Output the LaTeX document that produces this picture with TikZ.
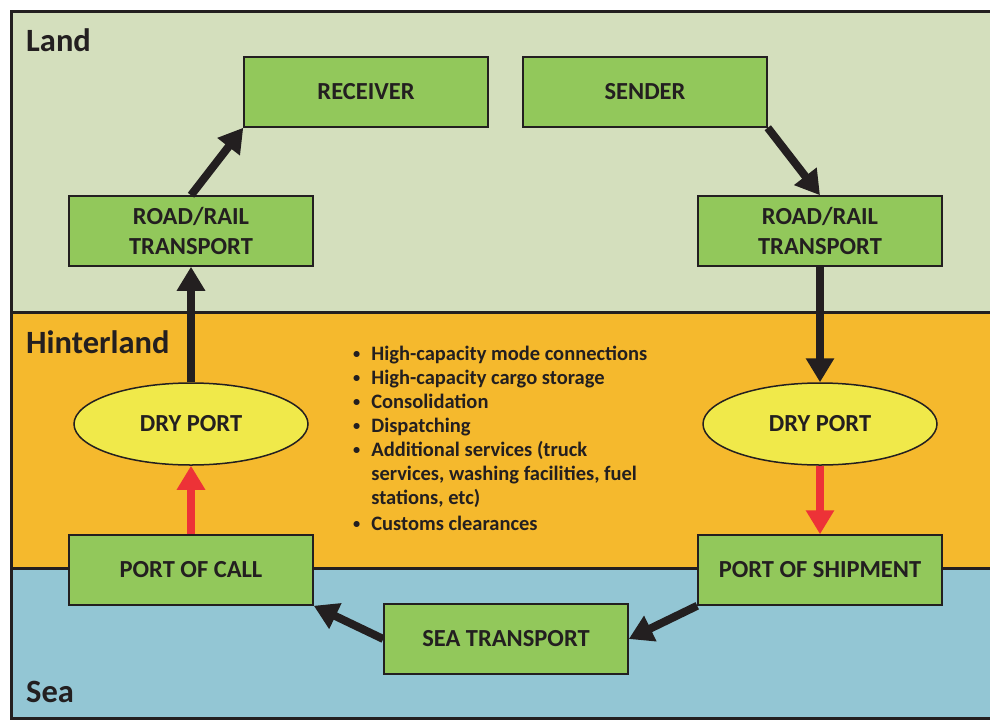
\documentclass[tikz,border=0pt]{standalone}
\usepackage{fontspec}
\usepackage{graphicx}
\setmainfont{Carlito}
\usetikzlibrary{arrows.meta}
\usetikzlibrary{shapes.geometric}

\definecolor{dark}{HTML}{231F20}
\definecolor{landbg}{HTML}{D4DFBD}
\definecolor{hinterbg}{HTML}{F5B92D}
\definecolor{seabg}{HTML}{93C6D4}
\definecolor{boxgreen}{HTML}{92C85B}
\definecolor{dryyellow}{HTML}{F0E94A}
\definecolor{arrowred}{HTML}{ED3237}

\newcommand{\dotmark}{\raisebox{1.5pt}{\scalebox{0.7}{\textbullet}}}

\begin{document}
\begin{tikzpicture}[x=1pt,y=-1pt,
  box/.style={draw=dark, line width=1.5pt, fill=boxgreen, minimum width=244pt, minimum height=70pt, align=center, text=dark, font=\fontsize{24.5}{30}\selectfont\bfseries},
  port/.style={ellipse, draw=dark, line width=1.5pt, fill=dryyellow, minimum width=234pt, minimum height=82pt, inner sep=0pt, text=dark, font=\fontsize{24.5}{30}\selectfont\bfseries},
  flow/.style={draw=dark, line width=8pt, -{Triangle[width=27pt,length=24pt]}},
  local/.style={draw=arrowred, line width=8pt, -{Triangle[width=27pt,length=24pt]}},
  zone/.style={anchor=west, inner sep=0pt, text=dark, font=\fontsize{32.5}{38}\selectfont\bfseries}]
\useasboundingbox (0,0) rectangle (990,720);
\clip (0,0) rectangle (990,720);
\fill[white] (0,0) rectangle (990,720);
% bands
\fill[landbg] (11,11) rectangle (995,312);
\fill[hinterbg] (11,312) rectangle (995,568);
\fill[seabg] (11,568) rectangle (995,718);
\draw[dark, line width=3pt] (11,312) -- (995,312);
\draw[dark, line width=3pt] (11,568) -- (995,568);
\draw[dark, line width=3pt] (995,718) -- (11.5,718) -- (11.5,11) -- (995,11);
\node[zone] (land) at (26,40) {Land};
\node[zone] (hinter) at (26,342) {Hinterland};
\node[zone] (seazone) at (26,692) {Sea};

% nodes
\node[box] (receiver) at (366,92) {RECEIVER};
\node[box] (sender) at (645,92) {SENDER};
\node[box] (roadL) at (191,231) {ROAD/RAIL\\TRANSPORT};
\node[box] (roadR) at (820,231) {ROAD/RAIL\\TRANSPORT};
\node[port] (dryL) at (191,424) {DRY PORT};
\node[port] (dryR) at (820,424) {DRY PORT};
\node[box] (call) at (191,570) {PORT OF CALL};
\node[box] (shipment) at (820,570) {PORT OF SHIPMENT};
\node[box] (sea) at (506,639) {SEA TRANSPORT};

\node[anchor=north west, inner sep=0pt, text=dark, font=\fontsize{20.5}{24}\selectfont\bfseries] (services) at (353,343) {%
\begin{tabular}{@{}l@{\hspace{11pt}}l@{}}
\dotmark & High-capacity mode connections\\
\dotmark & High-capacity cargo storage\\
\dotmark & Consolidation\\
\dotmark & Dispatching\\
\dotmark & Additional services (truck\\
 & services, washing facilities, fuel\\
 & stations, etc)\\[2pt]
\dotmark & Customs clearances
\end{tabular}};

% flows
\draw[flow] (roadL.north) -- (receiver.south west);
\draw[flow] (sender.south east) -- (roadR.north);
\draw[flow] (roadR.south) -- (dryR.north);
\draw[local] (dryR.south) -- (shipment.north);
\draw[flow] (shipment.south west) -- (sea.east);
\draw[flow] (sea.west) -- (call.south east);
\draw[local] (call.north) -- (dryL.south);
\draw[flow] (dryL.north) -- (roadL.south);
\end{tikzpicture}
\end{document}
